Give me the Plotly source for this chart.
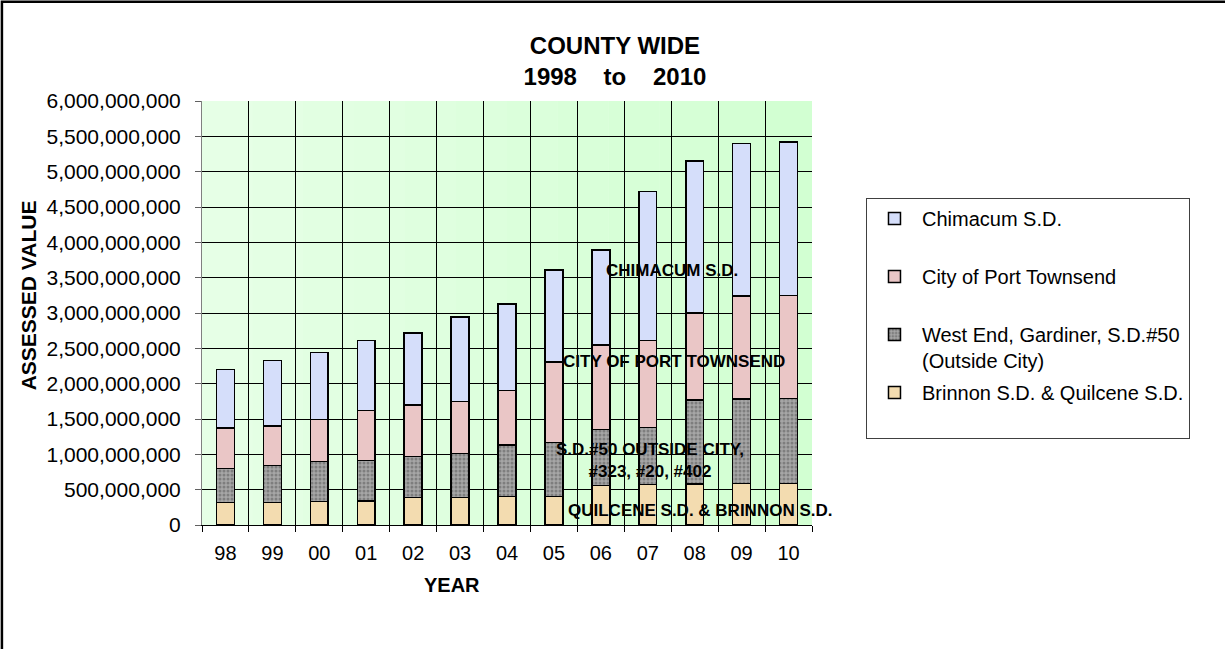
import plotly.graph_objects as go

years = ["98", "99", "00", "01", "02", "03", "04", "05", "06", "07", "08", "09", "10"]
brinnon_quilcene = [320e6, 320e6, 330e6, 340e6, 390e6, 390e6, 400e6, 400e6, 560e6, 570e6, 580e6, 590e6, 590e6]
west_end = [480e6, 520e6, 570e6, 570e6, 580e6, 620e6, 730e6, 770e6, 790e6, 810e6, 1190e6, 1190e6, 1200e6]
port_townsend = [570e6, 560e6, 590e6, 710e6, 730e6, 740e6, 770e6, 1140e6, 1200e6, 1230e6, 1230e6, 1460e6, 1460e6]
chimacum = [830e6, 930e6, 950e6, 990e6, 1020e6, 1190e6, 1230e6, 1300e6, 1340e6, 2110e6, 2150e6, 2160e6, 2170e6]

series_names = ["Brinnon S.D. & Quilcene S.D.<br>\u00a0",
                "West End, Gardiner, S.D.#50<br>(Outside City)",
                "City of Port Townsend<br>\u00a0",
                "Chimacum S.D.<br>\u00a0"]

FONT = "Liberation Sans, Arial, Helvetica, sans-serif"

fig = go.Figure()
line = dict(color="black", width=1.5)
fig.add_trace(go.Bar(x=years, y=brinnon_quilcene, name=series_names[0], legendgroup="d", legendrank=4,
                     marker=dict(color="#F3DCB0", line=line)))
fig.add_trace(go.Bar(x=years, y=west_end, name=series_names[1], legendgroup="c", legendrank=3,
                     marker=dict(color="#9C9C9C", line=line,
                                 pattern=dict(shape=".", fgcolor="#555555", bgcolor="#A6A6A6",
                                              size=4, solidity=0.45))))
fig.add_trace(go.Bar(x=years, y=port_townsend, name=series_names[2], legendgroup="b", legendrank=2,
                     marker=dict(color="#EAC6C6", line=line)))
fig.add_trace(go.Bar(x=years, y=chimacum, name=series_names[3], legendgroup="a", legendrank=1,
                     marker=dict(color="#D5DEFA", line=line)))

# soft green gradient background of plot area
n = 12
for i in range(n):
    t = i / (n - 1)
    g0 = (230, 255, 230)
    g1 = (210, 255, 210)
    c = tuple(int(round(g0[k] + (g1[k] - g0[k]) * t)) for k in range(3))
    fig.add_shape(type="rect", xref="paper", yref="paper", x0=i / n, x1=(i + 1) / n, y0=0, y1=1,
                  fillcolor="rgb(%d,%d,%d)" % c, line=dict(width=0), layer="below")

# outer chart border
fig.add_shape(type="rect", xref="paper", yref="paper", x0=-0.328, x1=1.70, y0=-0.32, y1=1.234,
              line=dict(color="black", width=2.5), fillcolor="rgba(0,0,0,0)", layer="above")

ann_font = dict(family=FONT, size=17, color="black")
annotations = [
    dict(text="<b>CHIMACUM S.D.</b>", x=0.771, y=3.60e9),
    dict(text="<b>CITY OF PORT TOWNSEND</b>", x=0.773, y=2.31e9),
    dict(text="<b>S.D.#50 OUTSIDE CITY,<br>#323, #20, #402</b>", x=0.735, y=0.91e9),
    dict(text="<b>QUILCENE S.D. & BRINNON S.D.</b>", x=0.817, y=0.21e9),
]
for a in annotations:
    fig.add_annotation(xref="paper", yref="y", showarrow=False, font=ann_font,
                       xanchor="center", yanchor="middle", **a)

fig.add_annotation(text="<b>YEAR</b>", xref="paper", yref="paper", x=0.41, y=-0.141,
                   showarrow=False, font=dict(family=FONT, size=20, color="black"),
                   xanchor="center", yanchor="middle")
fig.add_annotation(text="<b>ASSESSED VALUE</b>", xref="paper", yref="paper", x=-0.285, y=0.542,
                   textangle=-90, showarrow=False, font=dict(family=FONT, size=21, color="black"),
                   xanchor="center", yanchor="middle")

fig.update_layout(
    width=1225, height=649,
    margin=dict(l=202, r=413, t=101, b=124),
    barmode="stack", bargap=0.62,
    paper_bgcolor="white", plot_bgcolor="#E0FFE0",
    font=dict(family=FONT, size=20, color="black"),
    title=dict(text="<b>COUNTY WIDE<br>1998\u00a0\u00a0\u00a0 to \u00a0\u00a0\u00a02010</b>",
               x=0.502, xanchor="center", y=0.917, yanchor="middle",
               font=dict(family=FONT, size=24, color="black")),
    legend=dict(x=1.0885, y=0.771, xanchor="left", yanchor="top",
                bordercolor="#404040", borderwidth=1, bgcolor="white",
                font=dict(family=FONT, size=20, color="black"),
                traceorder="grouped", tracegroupgap=3, valign="top",
                itemwidth=45),
    showlegend=True,
)
fig.update_xaxes(type="category", tickson="boundaries", showgrid=True, gridcolor="black", gridwidth=1,
                 ticks="outside", ticklen=6, tickcolor="black", showline=True, linecolor="black",
                 tickfont=dict(family=FONT, size=20, color="black"), ticklabelstandoff=10)
fig.update_yaxes(range=[0, 6e9], dtick=5e8, tickformat=",d", showgrid=True, gridcolor="black", gridwidth=1,
                 ticks="outside", ticklen=6, tickcolor="#606060", showline=True, linecolor="#808080",
                 tickfont=dict(family=FONT, size=21, color="black"), ticklabelstandoff=10,
                 zeroline=False)

fig.write_html("out.html", config={"displayModeBar": False},
               post_script="document.body.style.margin='0';")
